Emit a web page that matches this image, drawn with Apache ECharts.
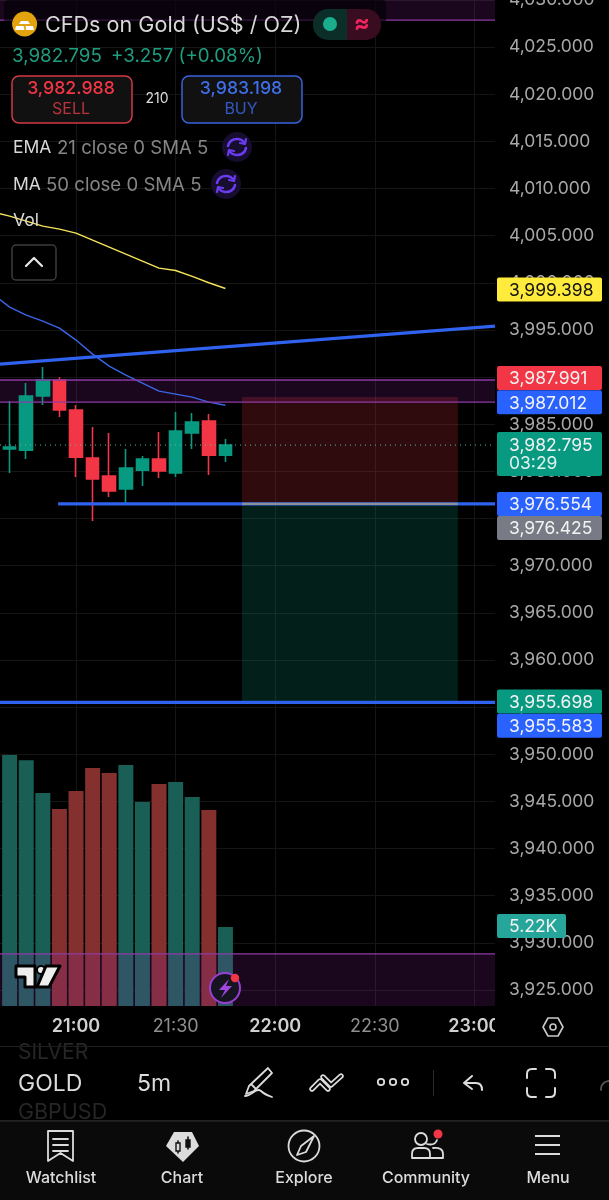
<!DOCTYPE html>
<html><head><meta charset="utf-8">
<style>html,body{margin:0;padding:0;background:#000}#c{width:609px;height:1200px}</style>
<script src="https://cdn.jsdelivr.net/npm/echarts@6/dist/echarts.min.js"></script>
</head><body><div id="c"></div>
<script>
// ---------- data ----------
const candleTimes = ['20:40','20:45','20:50','20:55','21:00','21:05','21:10','21:15','21:20','21:25','21:30','21:35','21:40','21:45'];
const opens  = [3982.37,3982.26,3988.00,3989.69,3986.51,3981.42,3979.51,3978.13,3980.14,3981.31,3979.83,3984.07,3985.34,3981.73];
const closes = [3982.58,3988.00,3989.69,3986.51,3981.52,3979.19,3977.92,3980.36,3981.31,3980.04,3984.28,3985.23,3981.73,3982.795];
const lows   = [3979.83,3981.31,3987.04,3985.76,3979.40,3974.74,3977.28,3976.54,3978.45,3979.29,3979.40,3982.37,3979.61,3980.99];
const highs  = [3987.46,3989.37,3991.07,3990.00,3987.04,3984.70,3984.07,3982.37,3981.63,3984.17,3986.30,3986.19,3986.08,3983.43];
const volumes = [16.6,16.25,14.08,13.02,14.21,15.73,15.4,15.93,13.48,14.67,14.8,13.81,12.95,5.22];
const volumeUp = [1,1,1,0,0,0,0,1,1,0,1,1,0,1];
const maTimes = ['20:35','20:40','20:45','20:50','20:55','21:00','21:05','21:10','21:15','21:20','21:25','21:30','21:35','21:40','21:45'];
const ma50  = [4007.5,4007.08,4006.55,4006.02,4005.7,4005.28,4004.53,4003.79,4003.05,4002.31,4001.56,4001.31,4000.68,4000.01,3999.398];
const ema21 = [3998.81,3997.43,3996.58,3995.94,3995.2,3993.93,3992.44,3991.17,3990.22,3989.37,3988.52,3988.2,3987.88,3987.35,3987.012];
const priceTicks = [3925,3930,3935,3940,3945,3950,3955,3960,3965,3970,3975,3980,3985,3990,3995,4000,4005,4010,4015,4020,4025,4030];
const timeTicks = ['21:00','21:30','22:00','22:30','23:00'];
const tagPrices = [3999.398,3987.991,3987.012,3982.795,3976.554,3976.425,3955.698,3955.583];
const tagNudges = [1,-18,-3,0,0,23,1,24];
const bandLevels = [[4027.87,4030],[3987.35,3989.69],[3923.3,3928.83]];
const trendLine = [3991.38,3995.41];
const stopLevel = 3987.88, entryLevel = 3976.554, targetLevel = 3955.5;

// ---------- scales ----------
const T = s => { const [h,m,sec] = s.split(':').map(Number); return h*60+m+(sec||0)/60; };
const tMin = T('20:37:06'), tMax = T('23:06:12');
const yMin = 3923.3, yMax = 4030;
const FONT = 'Inter, Roboto, sans-serif';
const GREEN='#089981', RED='#f23645', BLUE='#2962ff', PURPLE='#8e3aa6';

const levelLine = (name,pts,color,width,type,z) => ({name,type:'line',data:pts,symbol:'none',silent:true,z:z||6,
  lineStyle:{color,width,type:type||'solid'}});

const zones = [];
bandLevels.forEach(b=>zones.push([tMin,tMax,b[0],b[1],'rgba(156,39,176,0.17)']));
zones.push([T('21:50'),T('22:55'),entryLevel,stopLevel,'rgba(242,54,69,0.2)']);
zones.push([T('21:50'),T('22:55'),targetLevel,entryLevel,'rgba(8,153,129,0.2)']);

const series = [
 {name:'Vol',type:'bar',xAxisIndex:0,yAxisIndex:1,barWidth:15,z:1,silent:true,
  data:volumes.map((v,i)=>({value:[T(candleTimes[i]),v],itemStyle:{color:volumeUp[i]?'#1a5f56':'#83302f'}}))},
 {name:'zones',type:'custom',silent:true,z:2,data:zones.map(z=>z.slice(0,4)),encode:{x:[0,1],y:[2,3]},
  renderItem:(p,api)=>{
    const a=api.coord([api.value(0),api.value(3)]),b=api.coord([api.value(1),api.value(2)]);
    return {type:'rect',shape:{x:a[0],y:a[1],width:b[0]-a[0],height:b[1]-a[1]},style:{fill:zones[p.dataIndex][4]}};
  }},
 {name:'Gold',type:'candlestick',barWidth:13,z:3,silent:true,
  data:candleTimes.map((t,i)=>[T(t),opens[i],closes[i],lows[i],highs[i]]),
  encode:{x:0,y:[1,2,3,4]},
  itemStyle:{color:GREEN,color0:RED,borderColor:GREEN,borderColor0:RED,borderWidth:1.6}},
 levelLine('MA50',maTimes.map((t,i)=>[T(t),ma50[i]]),'#f5e35a',1.4),
 levelLine('EMA21',maTimes.map((t,i)=>[T(t),ema21[i]]),'#3a66e8',1.4),
 levelLine('trend',[[tMin,trendLine[0]],[tMax,trendLine[1]]],'#2f62ee',3.4),
 levelLine('entry',[[T('20:54:36'),entryLevel],[tMax,entryLevel]],'#2f62ee',3.4),
 levelLine('target',[[tMin,targetLevel],[tMax,targetLevel]],'#2f62ee',3.4),
 levelLine('band1',[[tMin,bandLevels[0][0]],[tMax,bandLevels[0][0]]],PURPLE,1.4),
 levelLine('band2a',[[tMin,bandLevels[1][1]],[tMax,bandLevels[1][1]]],PURPLE,1.4),
 levelLine('band2b',[[tMin,bandLevels[1][0]],[tMax,bandLevels[1][0]]],PURPLE,1.4),
 levelLine('band3',[[tMin,bandLevels[2][1]],[tMax,bandLevels[2][1]]],PURPLE,1.4),
 levelLine('entryGrey',[[T('21:50'),entryLevel],[T('22:55'),entryLevel]],'#8a8f9a',2.4,'solid',7),
 levelLine('last',[[tMin,closes[13]],[tMax,closes[13]]],'#5ab8a4',1,[1,4]),
 {name:'tags',type:'custom',silent:true,z:10,data:tagPrices.map((p,i)=>[tMax,p,i]),encode:{x:0,y:1},
  renderItem:(p,api)=>{
    const i=p.dataIndex, c=api.coord([tMax,api.value(1)]), cy=c[1]+tagNudges[i], x=c[0]+2;
    const fills=['#ffeb3b',RED,BLUE,GREEN,BLUE,'#787b86',GREEN,BLUE];
    const fg=i===0?'#131313':'#f2f2f2';
    const kids=[];
    if(i===3){
      kids.push({type:'rect',shape:{x,y:cy-13,width:105,height:44,r:2},style:{fill:fills[i]}});
      kids.push({type:'text',style:{text:'03:29',x:x+12,y:cy+19,fill:'#dff3ee',font:'17.5px '+FONT,verticalAlign:'middle'}});
    } else kids.push({type:'rect',shape:{x,y:cy-12,width:105,height:24,r:2},style:{fill:fills[i]}});
    kids.push({type:'text',style:{text:tagPrices[i].toLocaleString('en-US',{minimumFractionDigits:3}),x:x+12,y:cy+1,fill:fg,font:'17.5px '+FONT,verticalAlign:'middle'}});
    return {type:'group',children:kids};
  }},
 {name:'volTag',type:'custom',silent:true,z:11,xAxisIndex:0,yAxisIndex:1,data:[[tMax,volumes[13]]],encode:{x:0,y:1},
  renderItem:(p,api)=>{
    const c=api.coord([tMax,api.value(1)]),x=c[0]+2,cy=c[1]-1;
    return {type:'group',children:[
      {type:'rect',shape:{x,y:cy-12,width:69,height:24,r:2},style:{fill:'#26a69a'}},
      {type:'text',style:{text:api.value(1).toFixed(2)+'K',x:x+12,y:cy+1,fill:'#f2f2f2',font:'17.5px '+FONT,verticalAlign:'middle'}}
    ]};
  }}
];

// ---------- chrome ----------
const g=[];
const Z=50;
let pathN=0;
const txt=(text,x,y,fill,size,extra)=>g.push({type:'text',z:Z+2,silent:true,style:Object.assign({text,x,y,fill,font:(extra&&extra.weight||400)+' '+size+'px '+FONT,verticalAlign:'middle',align:extra&&extra.align||'left'})});
const rect=(x,y,w,h,fill,stroke,r,lw,z)=>g.push({type:'rect',z:z||Z,silent:true,shape:{x,y,width:w,height:h,r:r||0},style:{fill:fill||'none',stroke:stroke||'none',lineWidth:lw||1}});
const circ=(cx,cy,r,fill,stroke,lw,z)=>g.push({type:'circle',z:z||Z+1,silent:true,shape:{cx,cy,r},style:{fill:fill||'none',stroke:stroke||'none',lineWidth:lw||1}});
const path=(d,fill,stroke,lw,z)=>{
  const name='icon'+(pathN++);
  echarts.graphic.registerShape(name,echarts.graphic.extendPath(d,{}));
  g.push({type:name,z:z||Z+1,silent:true,style:{fill:fill||'none',stroke:stroke||'none',lineWidth:lw||1,lineCap:'round',lineJoin:'round'}});
};

// masks
rect(495,1007,114,38,'#000');
rect(0,1047,609,73,'#000');
rect(0,1121,609,79,'#0a0a0a');
rect(0,1046,609,1,'#1e1e1e');
rect(0,1120,609,1.5,'#222');
rect(4,0,382,33,'rgba(0,0,0,0.6)',null,4,1,20);

// header
circ(24.6,24,12.5,'#e3a30f');
path('M21 21 L28 21 L30 24 L19 24 Z M15 30 L16 26 L23.5 26 L24.5 30 Z M25.5 26 L33 26 L34 30 L26 30 Z','#fff');
txt('CFDs on Gold (US$ / OZ)',45,25,'#d8d8d8',21.6);
rect(313,9,34,31,'#0b2e28',null,[15,0,0,15]);
rect(347,9,34,31,'#3a0c20',null,[0,15,15,0]);
circ(330,24,7,'#1aad8e');
txt('≈',362,24,'#f0245e',24,{align:'center',weight:700});
txt('3,982.795',12,56,'#1f9d7f',18.8);
txt('+3.257 (+0.08%)',111,56,'#1f9d7f',18.8);
rect(12,76,120,47,'#111','#d23a45',7,1.5);
txt('3,982.988',71,89,'#f23645',17.7,{align:'center',weight:500});
txt('SELL',71,109,'#b9333e',16,{align:'center'});
txt('210',157,99,'#ddd',14,{align:'center'});
rect(182,76,120,47,'#111','#3a62dd',7,1.5);
txt('3,983.198',241,89,'#3f6fe8',17.7,{align:'center',weight:500});
txt('BUY',241,109,'#3358c4',16,{align:'center'});
txt('EMA',13,148,'#d8d8d8',17.5);
txt('21 close 0 SMA 5',57,148,'#858585',18.6);
txt('MA',13,185,'#d8d8d8',17.5);
txt('50 close 0 SMA 5',46,185,'#858585',18.6);
[[237,147],[226,184]].forEach(([x,y])=>{
  circ(x,y,15,'#170d2e');
  path(`M${x-9} ${y-1} A9 8 0 0 1 ${x+7} ${y-5} M${x+9} ${y+1} A9 8 0 0 1 ${x-7} ${y+5}`,null,'#6a3cf0',2.6,Z+2);
  path(`M${x+9} ${y-8} L${x+8} ${y-3} L${x+3} ${y-4} M${x-9} ${y+8} L${x-8} ${y+3} L${x-3} ${y+4}`,null,'#6a3cf0',2.2,Z+2);
});
txt('Vol',13,221,'#d8d8d8',17.5);
rect(12,245,44,35,'#000','#3c3c3c',4,1.5);
path('M26 266 L34 258 L42 266',null,'#e8e8e8',2.2);

// TradingView mark & lightning
path('M16 966 H35 V987 H25 V977 H16 Z','#eee','#000',3);
circ(41,970,4,'#eee','#000',2);
path('M46 966 H60 L49 987 H37 Z','#eee','#000',3);
circ(225,988,15,'#161420','#9a3fd6',2);
path('M229 979 L219 990 H225 L221 998 L232 986 H226 Z','#a047e0');
circ(235,978,4.2,'#f23645',null,1,Z+2);

// axis gear
path('M543 1027 L548 1018 H558 L563 1027 L558 1036 H548 Z',null,'#c8c8c8',1.6);
circ(553,1027,3,null,'#c8c8c8',1.6);

// toolbar
txt('SILVER',18,1053,'#262626',21);
txt('GOLD',18,1084,'#dcdcdc',23);
txt('GBPUSD',18,1113,'#262626',21.5);
rect(0,1120,609,1.5,'#222',null,0,1,Z+3);
rect(0,1046,609,1,'#1e1e1e',null,0,1,Z+3);
txt('5m',137,1084,'#dcdcdc',23);
path('M268 1068 L272 1073 L254 1091 L246 1094 L249 1086 Z M251 1084 L256 1089',null,'#dcdcdc',1.8);
path('M245 1096 C252 1096 256 1087 261 1091 C264 1094 266 1095 272 1097',null,'#dcdcdc',1.8);
path('M312 1089 L320 1081 L328 1089 M323 1077 L331 1085 L341 1076',null,'#dcdcdc',5.4);
path('M312 1089 L320 1081 L328 1089 M323 1077 L331 1085 L341 1076',null,'#000',2,Z+2);
[381,393,405].forEach(x=>circ(x,1082,3.2,null,'#dcdcdc',1.8));
rect(433,1070,1,26,'#2c2c2c');
path('M472 1076 L464 1083 L472 1089 M464 1083 H476 C480 1083 482 1086 482 1090',null,'#dcdcdc',2);
path('M527 1078 V1074 Q527 1069 532 1069 H536 M546 1069 H550 Q555 1069 555 1074 V1078 M555 1088 V1092 Q555 1097 550 1097 H546 M536 1097 H532 Q527 1097 527 1092 V1088',null,'#dcdcdc',2);
path('M601 1090 A8 8 0 0 1 609 1081',null,'#555',1.8);

// nav
const navLabels=[['Watchlist',61],['Chart',182],['Explore',304],['Community',426],['Menu',548]];
navLabels.forEach(([t,x])=>txt(t,x,1178,'#dcdcdc',16,{align:'center',weight:500}));
path('M48 1131 H73 V1161 L60.5 1153 L48 1161 Z M53 1139 H68 M53 1145 H68 M53 1151 H68',null,'#dcdcdc',1.8);
path('M174 1132 H192 L199 1146 L183 1162 L166 1146 Z','#dcdcdc');
path('M178 1141 V1153 M188 1137 V1149',null,'#111',1.6,Z+2);
rect(176,1143,4,8,'#dcdcdc','#111',0,1.4,Z+3);
rect(186,1140,4,7,'#111','#111',0,1.4,Z+3);
circ(304,1146,15.5,null,'#dcdcdc',1.8);
path('M314 1136 L306 1152 L297 1155 L301 1146 Z',null,'#dcdcdc',1.8);
circ(421,1139,6,null,'#dcdcdc',1.8);
path('M412 1158 V1154 Q412 1148 418 1148 H424 Q430 1148 430 1154 V1158 Z M433 1148 Q443 1147 443 1154 V1158 H431',null,'#dcdcdc',1.8);
path('M427 1144 Q435 1146 437 1140',null,'#dcdcdc',1.8);
circ(438,1134,4.5,'#f23645',null,1,Z+2);
[1136,1145,1154].forEach(y=>rect(535,y-1,25,2,'#dcdcdc'));

const chart=echarts.init(document.getElementById('c'),null,{renderer:'canvas'});
chart.setOption({
  backgroundColor:'#000',animation:false,
  grid:{left:0,right:114,top:0,bottom:194,containLabel:false,outerBoundsMode:'none'},
  xAxis:{type:'value',min:tMin,max:tMax,
    axisLine:{show:false},
    axisTick:{show:false,customValues:timeTicks.map(T)},
    splitLine:{show:true,lineStyle:{color:'#151515',width:1}},
    axisLabel:{customValues:timeTicks.map(T),margin:12,hideOverlap:false,
      formatter:v=>{const h=String(Math.floor(v/60)).padStart(2,'0'),m=String(Math.round(v%60)).padStart(2,'0');
        return m==='00'?`{h|${h}:${m}}`:`{m|${h}:${m}}`;},
      rich:{h:{color:'#d0d0d0',fontSize:18,fontWeight:600,fontFamily:FONT},m:{color:'#8f8f8f',fontSize:18,fontFamily:FONT}}}
  },
  yAxis:[
   {type:'value',position:'right',min:yMin,max:yMax,
    axisLine:{show:false},
    axisTick:{show:false,customValues:priceTicks},
    splitLine:{show:true,lineStyle:{color:'#151515',width:1}},
    axisLabel:{customValues:priceTicks,margin:14,color:'#a8a8a8',fontSize:17.5,fontFamily:FONT,padding:[3,0,0,0],
      formatter:v=>Number(v).toLocaleString('en-US',{minimumFractionDigits:3})}},
   {type:'value',min:0,max:66.5,show:false,splitLine:{show:false}}
  ],
  series,graphic:{elements:g}
});
</script></body></html>
